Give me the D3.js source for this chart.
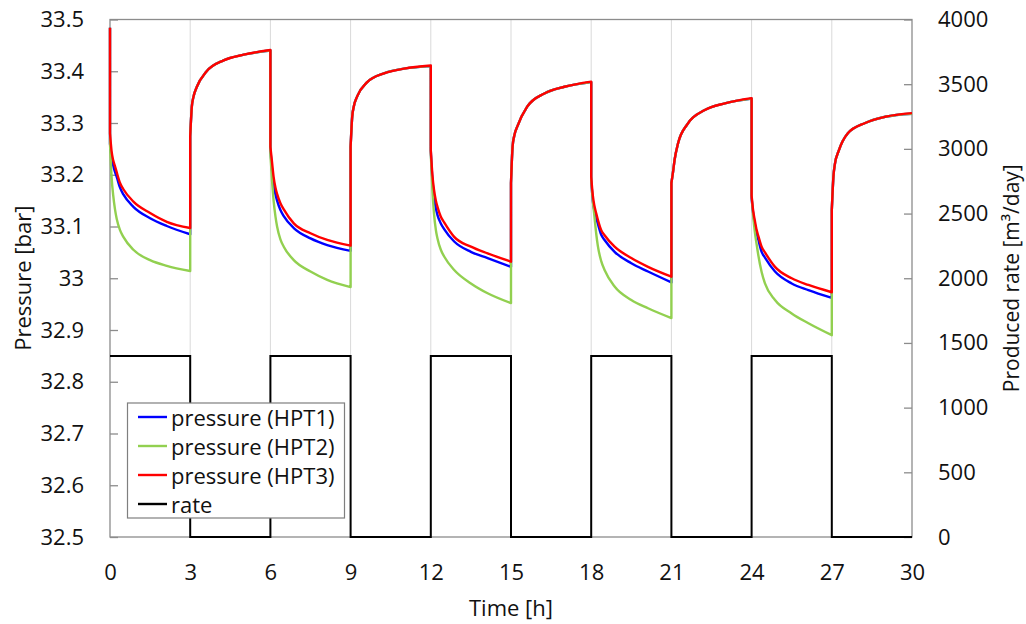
<!DOCTYPE html>
<html><head><meta charset="utf-8">
<script src="https://cdn.jsdelivr.net/npm/d3@7"></script>
<style>
body{margin:0;background:#fff}
text{font-family:"Open Sans",sans-serif;fill:#111}
</style>
</head><body>
<svg id="chart" width="1026" height="624"></svg>
<script>
// ---------- data ----------
const time = [
  0,
  0, 0.06, 0.12, 0.19, 0.25, 0.375, 0.5, 0.875, 1.5, 2.125, 3,
  3, 3.06, 3.12, 3.25, 3.6, 4.25, 5, 6,
  6, 6.06, 6.12, 6.19, 6.25, 6.375, 6.5, 6.875, 7.5, 8.125, 9,
  9, 9.06, 9.12, 9.25, 9.6, 10.25, 11, 12,
  12, 12.06, 12.12, 12.19, 12.25, 12.375, 12.5, 12.875, 13.5, 14.125, 15,
  15, 15.06, 15.12, 15.25, 15.6, 16.25, 17, 18,
  18, 18.06, 18.12, 18.19, 18.25, 18.375, 18.5, 18.875, 19.5, 20.125, 21,
  21, 21.06, 21.12, 21.25, 21.6, 22.25, 23, 24,
  24, 24.06, 24.12, 24.19, 24.25, 24.375, 24.5, 24.875, 25.5, 26.125, 27,
  27, 27.06, 27.12, 27.25, 27.6, 28.25, 29, 30
];
const pressureHPT1 = [
  33.484,
  33.26, 33.235, 33.218, 33.205, 33.196, 33.175, 33.162, 33.138, 33.116, 33.101, 33.085,
  33.274, 33.331, 33.35, 33.37, 33.399, 33.421, 33.432, 33.44,
  33.25, 33.21, 33.183, 33.162, 33.15, 33.132, 33.12, 33.097, 33.077, 33.064, 33.053,
  33.254, 33.312, 33.332, 33.352, 33.378, 33.396, 33.405, 33.41,
  33.245, 33.19, 33.158, 33.135, 33.122, 33.106, 33.095, 33.071, 33.051, 33.039, 33.022,
  33.184, 33.255, 33.275, 33.295, 33.331, 33.357, 33.37, 33.379,
  33.19, 33.15, 33.13, 33.116, 33.105, 33.084, 33.074, 33.051, 33.029, 33.013, 32.992,
  33.184, 33.205, 33.229, 33.261, 33.298, 33.325, 33.338, 33.347,
  33.155, 33.125, 33.105, 33.087, 33.075, 33.051, 33.04, 33.013, 32.99, 32.977, 32.962,
  33.132, 33.196, 33.222, 33.245, 33.28, 33.3, 33.312, 33.318
];
const pressureHPT2 = [
  33.484,
  33.26, 33.195, 33.16, 33.132, 33.115, 33.093, 33.08, 33.055, 33.035, 33.024, 33.014,
  33.274, 33.331, 33.35, 33.37, 33.399, 33.421, 33.432, 33.44,
  33.24, 33.19, 33.15, 33.119, 33.1, 33.075, 33.061, 33.035, 33.013, 32.997, 32.983,
  33.254, 33.312, 33.332, 33.352, 33.378, 33.396, 33.405, 33.41,
  33.24, 33.17, 33.125, 33.093, 33.077, 33.055, 33.042, 33.016, 32.99, 32.971, 32.952,
  33.184, 33.255, 33.275, 33.295, 33.331, 33.357, 33.37, 33.379,
  33.19, 33.15, 33.12, 33.085, 33.062, 33.033, 33.016, 32.984, 32.958, 32.942, 32.923,
  33.184, 33.205, 33.229, 33.261, 33.298, 33.325, 33.338, 33.347,
  33.16, 33.12, 33.09, 33.065, 33.045, 33.012, 32.99, 32.958, 32.932, 32.913, 32.89,
  33.132, 33.196, 33.222, 33.245, 33.28, 33.3, 33.312, 33.318
];
const pressureHPT3 = [
  33.484,
  33.28, 33.245, 33.228, 33.216, 33.205, 33.184, 33.172, 33.148, 33.126, 33.109, 33.097,
  33.274, 33.331, 33.35, 33.37, 33.399, 33.421, 33.432, 33.441,
  33.254, 33.225, 33.196, 33.175, 33.163, 33.145, 33.133, 33.106, 33.087, 33.074, 33.063,
  33.254, 33.312, 33.332, 33.352, 33.378, 33.396, 33.405, 33.411,
  33.248, 33.2, 33.171, 33.15, 33.138, 33.119, 33.108, 33.08, 33.061, 33.048, 33.032,
  33.184, 33.255, 33.275, 33.295, 33.331, 33.357, 33.37, 33.38,
  33.196, 33.16, 33.14, 33.125, 33.113, 33.093, 33.083, 33.061, 33.039, 33.022, 33.003,
  33.184, 33.205, 33.229, 33.261, 33.298, 33.325, 33.338, 33.348,
  33.16, 33.13, 33.112, 33.093, 33.082, 33.061, 33.05, 33.022, 33.0, 32.987, 32.973,
  33.132, 33.196, 33.222, 33.245, 33.28, 33.3, 33.312, 33.319
];
const rateTime = [0, 3, 6, 9, 12, 15, 18, 21, 24, 27, 30];
const rateValues = [1400, 0, 1400, 0, 1400, 0, 1400, 0, 1400, 0, 0];
const xTicks = [0, 3, 6, 9, 12, 15, 18, 21, 24, 27, 30];
const pressureTicks = [32.5, 32.6, 32.7, 32.8, 32.9, 33.0, 33.1, 33.2, 33.3, 33.4, 33.5];
const rateTicks = [0, 500, 1000, 1500, 2000, 2500, 3000, 3500, 4000];
const seriesNames = ["pressure (HPT1)", "pressure (HPT2)", "pressure (HPT3)", "rate"];
const seriesColors = ["#0000ff", "#92d050", "#ff0000", "#000000"];

// ---------- layout ----------
const L = 110, R = 912, T = 19.5, B = 537;
const svg = d3.select("#chart");
const x = d3.scaleLinear([0, 30], [L, R]);
const yP = d3.scaleLinear([32.5, 33.5], [B, T]);
const yR = d3.scaleLinear([0, 4000], [B, T]);

// vertical gridlines
svg.append("g").selectAll("line").data(xTicks.slice(1, -1)).join("line")
  .attr("x1", d => x(d)).attr("x2", d => x(d)).attr("y1", T).attr("y2", B)
  .attr("stroke", "#d9d9d9").attr("stroke-width", 1);

// frame
svg.append("rect").attr("x", L).attr("y", T).attr("width", R - L).attr("height", B - T)
  .attr("fill", "none").attr("stroke", "#8c8c8c").attr("stroke-width", 1.3);

// axes
const fmtP = d => String(+d.toFixed(1));
const gl = svg.append("g").attr("transform", `translate(${L},0)`)
  .call(d3.axisLeft(yP).tickValues(pressureTicks).tickSize(-8).tickPadding(26).tickFormat(fmtP));
const gr = svg.append("g").attr("transform", `translate(${R},0)`)
  .call(d3.axisRight(yR).tickValues(rateTicks).tickSize(-8).tickPadding(26).tickFormat(d3.format("d")));
const gb = svg.append("g").attr("transform", `translate(0,${B})`)
  .call(d3.axisBottom(x).tickValues(xTicks).tickSize(0).tickPadding(27));
[gl, gr, gb].forEach(g => {
  g.select(".domain").remove();
  g.selectAll(".tick line").attr("stroke", "#8c8c8c").attr("stroke-width", 1.3);
  g.selectAll("text").attr("font-size", 22).attr("font-family", "Open Sans").attr("fill", "#111");
});

// rate (step)
const rateLine = d3.line().x(d => x(d[0])).y(d => yR(d[1])).curve(d3.curveStepAfter);
svg.append("path").datum(rateTime.map((t, i) => [t, rateValues[i]]))
  .attr("d", rateLine).attr("fill", "none").attr("stroke", "#000").attr("stroke-width", 2);

// pressure curves: smooth segments joined by vertical jumps
const pLine = d3.line().x(d => x(d[0])).y(d => yP(d[1])).curve(d3.curveMonotoneX);
function pressurePath(vals) {
  const segs = []; let cur = [];
  time.forEach((t, i) => {
    if (i > 0 && t === time[i - 1]) { segs.push(cur); cur = []; }
    cur.push([t, vals[i]]);
  });
  segs.push(cur);
  return segs.map((s, i) => {
    let p = pLine(s).replace(/Z$/, "");
    return i === 0 ? p : "L" + p.slice(1);
  }).join("");
}
[pressureHPT1, pressureHPT2, pressureHPT3].forEach((vals, k) => {
  svg.append("path").attr("d", pressurePath(vals)).attr("fill", "none")
    .attr("stroke", seriesColors[k]).attr("stroke-width", 2.4).attr("stroke-linejoin", "round");
});

// axis titles
svg.append("text").attr("x", (L + R) / 2).attr("y", 607).attr("text-anchor", "middle")
  .attr("dominant-baseline", "central").attr("font-size", 22).text("Time [h]");
svg.append("text").attr("transform", `translate(22,${(T + B) / 2}) rotate(-90)`)
  .attr("text-anchor", "middle").attr("dominant-baseline", "central").attr("font-size", 22).text("Pressure [bar]");
svg.append("text").attr("transform", `translate(1011,${(T + B) / 2}) rotate(-90)`)
  .attr("text-anchor", "middle").attr("dominant-baseline", "central").attr("font-size", 21)
  .text("Produced rate [m³/day]");

// legend
const lg = svg.append("g");
lg.append("rect").attr("x", 127.5).attr("y", 403).attr("width", 217).attr("height", 115)
  .attr("fill", "#fff").attr("stroke", "#7f7f7f").attr("stroke-width", 1.2);
seriesNames.forEach((name, i) => {
  const yy = 417 + i * 29;
  lg.append("line").attr("x1", 138).attr("x2", 167).attr("y1", yy).attr("y2", yy)
    .attr("stroke", seriesColors[i]).attr("stroke-width", 2.4);
  lg.append("text").attr("x", 171).attr("y", yy).attr("dominant-baseline", "central")
    .attr("font-size", 22).text(name);
});
</script>
</body></html>
